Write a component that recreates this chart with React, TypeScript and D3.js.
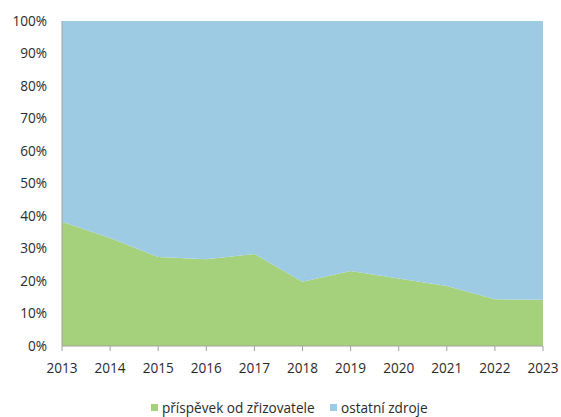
import * as d3 from "d3";

const years = [2013, 2014, 2015, 2016, 2017, 2018, 2019, 2020, 2021, 2022, 2023];
const prispevek = [0.382, 0.332, 0.274, 0.267, 0.283, 0.198, 0.231, 0.208, 0.185, 0.144, 0.142];
const seriesNames = ["příspěvek od zřizovatele", "ostatní zdroje"];
const yTicks = [0, 0.1, 0.2, 0.3, 0.4, 0.5, 0.6, 0.7, 0.8, 0.9, 1];

const colors = { green: "#a6d17c", blue: "#9dcbe4", text: "#2a2a2a", axis: "#a0a0a0" };

const W = 561;
const H = 417;
const m = { t: 21, r: 18, b: 71, l: 62 };

export default function App() {
    const x = d3.scaleLinear().domain([years[0], years[years.length - 1]]).range([m.l, W - m.r]);
    const y = d3.scaleLinear().domain([0, 1]).range([H - m.b, m.t]);

    const rows = years.map((yr, i) => ({ year: yr, a: prispevek[i], b: 1 - prispevek[i] }));
    const stack = d3.stack<{ year: number; a: number; b: number }>().keys(["a", "b"]);
    const layers = stack(rows);
    const area = d3.area<d3.SeriesPoint<{ year: number; a: number; b: number }>>()
        .x(d => x(d.data.year))
        .y0(d => y(d[0]))
        .y1(d => y(d[1]));
    const fills = [colors.green, colors.blue];

    const font = "'Open Sans', 'DejaVu Sans', sans-serif";
    const fs = 13.6;

    return (
        <svg width={W} height={H} style={{ position: "absolute", left: 0, top: 0, background: "#fff" }}>
            {layers.map((l, i) => (
                <path key={i} d={area(l) || ""} fill={fills[i]} />
            ))}
            <line x1={m.l} x2={m.l} y1={m.t} y2={H - m.b} stroke={colors.axis} />
            <line x1={m.l} x2={W - m.r} y1={H - m.b} y2={H - m.b} stroke={colors.axis} />
            {years.map(yr => (
                <g key={yr}>
                    <line x1={x(yr)} x2={x(yr)} y1={H - m.b} y2={H - m.b + 5} stroke={colors.axis} />
                    <text x={x(yr)} y={H - m.b + 27} textAnchor="middle" fontSize={fs} fontFamily={font} fill={colors.text}>{yr}</text>
                </g>
            ))}
            {yTicks.map(t => (
                <text key={t} x={m.l - 15} y={y(t)} dy="0.35em" textAnchor="end" fontSize={fs} fontFamily={font} fill={colors.text}>
                    {d3.format(".0%")(t)}
                </text>
            ))}
            <g fontFamily={font} fontSize={fs} fill={colors.text}>
                <rect x={151} y={404} width={7} height={7} fill={colors.green} />
                <text x={162} y={408} dy="0.35em">{seriesNames[0]}</text>
                <rect x={330} y={404} width={7} height={7} fill={colors.blue} />
                <text x={341} y={408} dy="0.35em">{seriesNames[1]}</text>
            </g>
        </svg>
    );
}
